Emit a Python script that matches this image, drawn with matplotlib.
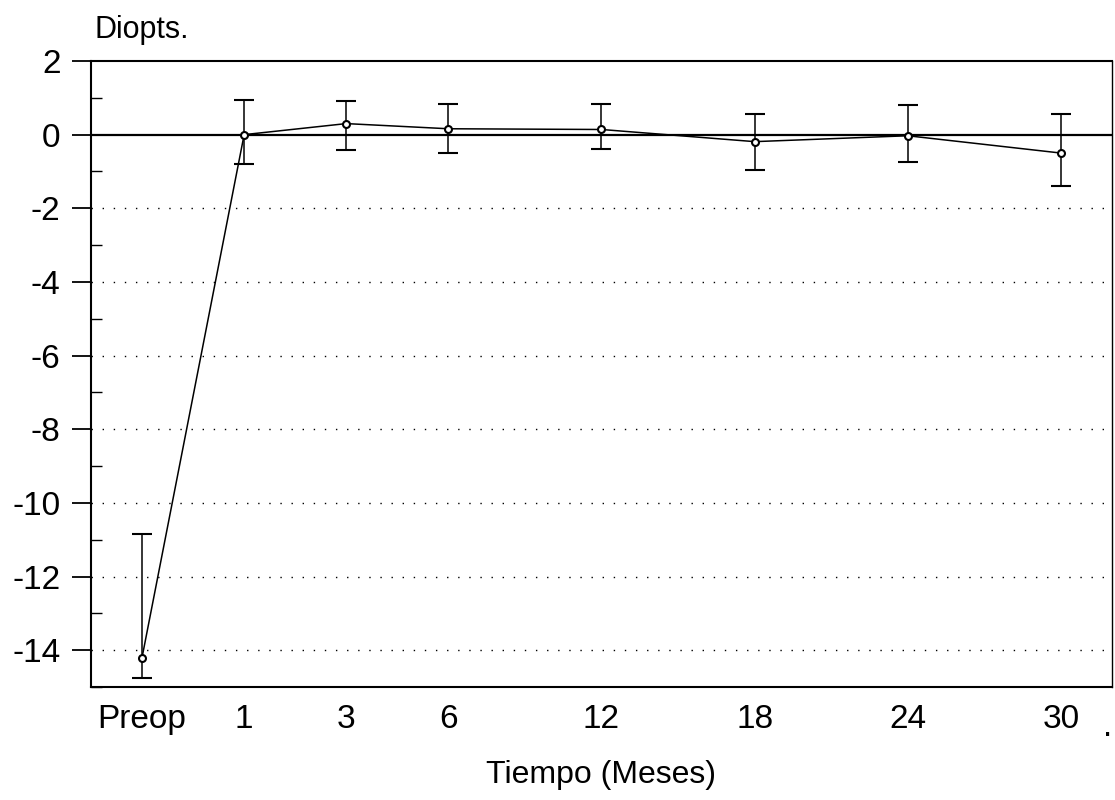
import matplotlib.pyplot as plt
from matplotlib.ticker import MultipleLocator

plt.rcParams["font.family"] = ["Liberation Sans", "DejaVu Sans"]
plt.rcParams["axes.unicode_minus"] = False

# Datos
tiempos = ["Preop", "1", "3", "6", "12", "18", "24", "30"]
x_pos = [0, 1, 2, 3, 4.5, 6, 7.5, 9]
media = [-14.2, 0.0, 0.30, 0.16, 0.14, -0.19, -0.03, -0.50]
err_sup = [-10.85, 0.95, 0.92, 0.84, 0.84, 0.57, 0.81, 0.57]
err_inf = [-14.75, -0.80, -0.43, -0.51, -0.38, -0.95, -0.73, -1.40]

yerr = [
    [m - lo for m, lo in zip(media, err_inf)],
    [hi - m for m, hi in zip(media, err_sup)],
]

fig = plt.figure(figsize=(11.15, 8), dpi=100)
ax = fig.add_axes([0.0816, 0.14125, 0.9157, 0.7825])

# grid punteada y linea cero
for yv in range(-14, 0, 2):
    ax.axhline(yv, color="black", linestyle=(0, (1, 7)), linewidth=1.0, zorder=1)
ax.axhline(0, color="black", linewidth=1.6, zorder=2)

ax.errorbar(
    x_pos, media, yerr=yerr,
    color="black", linewidth=1.1, elinewidth=1.1, capsize=7, capthick=1.3,
    marker="o", markersize=5, markerfacecolor="white", markeredgewidth=1.5,
    zorder=3,
)

ax.set_xlim(-0.5, 9.5)
ax.set_ylim(-15, 2)
ax.set_xticks(x_pos)
ax.set_xticklabels(tiempos, fontsize=24)
ax.tick_params(axis="x", length=0, pad=12)

ax.yaxis.set_major_locator(MultipleLocator(2))
ax.yaxis.set_minor_locator(MultipleLocator(1))
ax.tick_params(axis="y", which="major", direction="out", length=14, width=1.3,
               labelsize=24, pad=8)
ax.tick_params(axis="y", which="minor", direction="in", length=8, width=1.0)

for s in ax.spines.values():
    s.set_linewidth(1.5)
ax.spines["right"].set_linewidth(1.0)

fig.text(0.0845, 0.962, "Diopts.", fontsize=22, ha="left", va="center")
fig.text(0.539, 0.031, "Tiempo (Meses)", fontsize=23, ha="center", va="center")
fig.text(0.993, 0.09, ".", fontsize=24, ha="center", va="center")

fig.savefig("out.png", dpi=100)
